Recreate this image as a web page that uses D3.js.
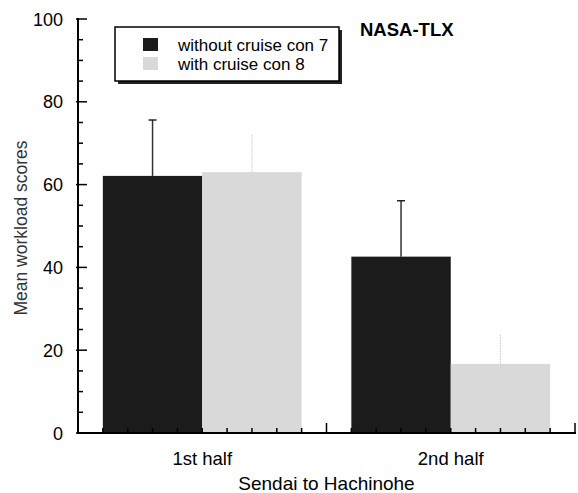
<!DOCTYPE html>
<html>
<head>
<meta charset="utf-8">
<script src="https://cdn.jsdelivr.net/npm/d3@7"></script>
<style>
  body { margin: 0; background: #fff; }
  svg { display: block; font-family: "Liberation Sans", Arial, sans-serif; }
</style>
</head>
<body>
<div id="chart"></div>
<script>
const categories = ["1st half", "2nd half"];
const seriesNames = ["without cruise con 7", "with cruise con 8"];
const meanWithout = [62.1, 42.6];
const meanWith = [63.0, 16.7];
const sdWithout = [13.5, 13.5];
const sdWith = [9.2, 7.2];
const yTicks = [0, 20, 40, 60, 80, 100];

const W = 578, H = 493;
const plotL = 78, plotR = 575, plotT = 19, plotB = 433;

const svg = d3.select("#chart").append("svg")
  .attr("width", W).attr("height", H);

const y = d3.scaleLinear().domain([0, 100]).range([plotB, plotT]);
const x = d3.scaleBand().domain(categories).range([plotL, plotR]).padding(0);
const xSub = d3.scaleBand().domain(seriesNames)
  .range([x.bandwidth() * 0.1, x.bandwidth() * 0.9]).padding(0);
// tick positions along the x axis (ten per group)
const xt = d3.scaleLinear().domain([0, 20]).range([plotL, plotR]);

const fills = ["#1b1b1b", "#d9d9d9"];
const errColors = ["#333", "#bdbdbd"];

const rows = categories.map((c, i) => ({
  cat: c,
  vals: [
    { s: seriesNames[0], m: meanWithout[i], sd: sdWithout[i], k: 0 },
    { s: seriesNames[1], m: meanWith[i], sd: sdWith[i], k: 1 }
  ]
}));

// bars
const g = svg.selectAll("g.grp").data(rows).join("g")
  .attr("class", "grp")
  .attr("transform", d => `translate(${x(d.cat)},0)`);

g.selectAll("rect").data(d => d.vals).join("rect")
  .attr("x", d => xSub(d.s))
  .attr("width", xSub.bandwidth())
  .attr("y", d => y(d.m))
  .attr("height", d => y(0) - y(d.m))
  .attr("fill", d => fills[d.k]);

// error bars (upper only)
g.selectAll("line.err").data(d => d.vals).join("line")
  .attr("class", "err")
  .attr("x1", d => xSub(d.s) + xSub.bandwidth() / 2)
  .attr("x2", d => xSub(d.s) + xSub.bandwidth() / 2)
  .attr("y1", d => y(d.m))
  .attr("y2", d => y(d.m + d.sd))
  .attr("stroke", d => errColors[d.k])
  .attr("stroke-width", d => d.k === 0 ? 1.5 : 1)
  .attr("stroke-dasharray", d => d.k === 0 ? null : "1,1");

g.selectAll("line.cap").data(d => d.vals.filter(v => v.k === 0)).join("line")
  .attr("class", "cap")
  .attr("x1", d => xSub(d.s) + xSub.bandwidth() / 2 - 4)
  .attr("x2", d => xSub(d.s) + xSub.bandwidth() / 2 + 4)
  .attr("y1", d => y(d.m + d.sd))
  .attr("y2", d => y(d.m + d.sd))
  .attr("stroke", "#222")
  .attr("stroke-width", 1.5);

// y axis
svg.append("line")
  .attr("x1", plotL).attr("x2", plotL)
  .attr("y1", y(100) - 1).attr("y2", y(0) + 1)
  .attr("stroke", "#000").attr("stroke-width", 2);

const minorY = d3.range(0, 101, 5).filter(v => v % 20 !== 0);
svg.selectAll("line.ymin").data(minorY).join("line")
  .attr("class", "ymin")
  .attr("x1", plotL).attr("x2", plotL + 5)
  .attr("y1", d => y(d)).attr("y2", d => y(d))
  .attr("stroke", "#000").attr("stroke-width", 1.5);

svg.selectAll("line.ymaj").data(yTicks).join("line")
  .attr("class", "ymaj")
  .attr("x1", plotL - 2).attr("x2", plotL + 9)
  .attr("y1", d => y(d)).attr("y2", d => y(d))
  .attr("stroke", "#000").attr("stroke-width", 1.5);

svg.selectAll("text.ylab").data(yTicks).join("text")
  .attr("class", "ylab")
  .attr("x", plotL - 15).attr("y", d => y(d) + 6.5)
  .attr("text-anchor", "end")
  .attr("font-size", 18)
  .text(d => d);

// x axis
svg.append("line")
  .attr("x1", plotL - 1).attr("x2", plotR + 1)
  .attr("y1", plotB).attr("y2", plotB)
  .attr("stroke", "#000").attr("stroke-width", 2);

svg.selectAll("line.xt").data(d3.range(1, 21)).join("line")
  .attr("class", "xt")
  .attr("x1", d => xt(d)).attr("x2", d => xt(d))
  .attr("y1", plotB)
  .attr("y2", d => d % 10 === 0 ? plotB - 10 : plotB - 5)
  .attr("stroke", "#000").attr("stroke-width", 1.5);

svg.selectAll("text.xlab").data(categories).join("text")
  .attr("class", "xlab")
  .attr("x", d => x(d) + x.bandwidth() / 2)
  .attr("y", 465)
  .attr("text-anchor", "middle")
  .attr("font-size", 18.5)
  .text(d => d);

svg.append("text")
  .attr("x", (plotL + plotR) / 2).attr("y", 490)
  .attr("text-anchor", "middle")
  .attr("font-size", 19)
  .text("Sendai to Hachinohe");

svg.append("text")
  .attr("transform", `translate(27,${(plotT + plotB) / 2 + 2}) rotate(-90)`)
  .attr("text-anchor", "middle")
  .attr("font-size", 17.5)
  .attr("fill", "#333")
  .text("Mean workload scores");

// title
svg.append("text")
  .attr("x", 360).attr("y", 36)
  .attr("font-size", 18.5).attr("font-weight", "bold")
  .text("NASA-TLX");

// legend
const lg = svg.append("g").attr("transform", "translate(115,27)");
lg.append("rect").attr("x", 3).attr("y", 3).attr("width", 224).attr("height", 54)
  .attr("fill", "#222");
lg.append("rect").attr("x", 0).attr("y", 0).attr("width", 224).attr("height", 54)
  .attr("fill", "#fff").attr("stroke", "#000").attr("stroke-width", 1.5);
seriesNames.forEach((s, i) => {
  lg.append("rect")
    .attr("x", 28).attr("y", 11 + i * 19)
    .attr("width", 15).attr("height", 13)
    .attr("fill", fills[i]);
  lg.append("text")
    .attr("x", 63).attr("y", 24 + i * 19)
    .attr("font-size", 17)
    .text(s);
});
</script>
</body>
</html>
